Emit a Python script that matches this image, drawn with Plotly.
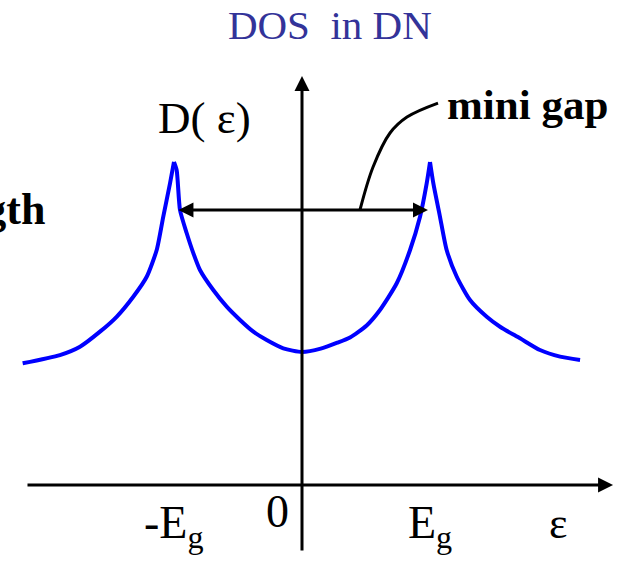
import plotly.graph_objects as go

# Density of states D(eps) near the mini gap, energy in units of E_g
eps = [-2.182, -1.891, -1.734, -1.578, -1.448, -1.318, -1.213, -1.135, -1.084, -1.031,
       -1.0,
       -0.979, -0.953, -0.901, -0.849, -0.797, -0.693, -0.588, -0.484, -0.380, -0.276,
       -0.146, 0.0, 0.146, 0.276, 0.375, 0.505, 0.609, 0.740, 0.844, 0.922, 0.974,
       1.0,
       1.026, 1.078, 1.130, 1.209, 1.3125, 1.443, 1.547, 1.703, 1.859, 2.016, 2.172]
dos = [0.915, 0.977, 1.040, 1.153, 1.265, 1.416, 1.566, 1.767, 2.017, 2.268,
       2.429,
       2.368, 2.068, 1.895, 1.744, 1.617, 1.466, 1.341, 1.241, 1.153, 1.090,
       1.028, 1.0, 1.025, 1.070, 1.110, 1.200, 1.316, 1.517, 1.767, 2.017, 2.268,
       2.429,
       2.268, 2.017, 1.767, 1.566, 1.391, 1.265, 1.190, 1.103, 1.015, 0.965, 0.940]

# Energy labels on the horizontal axis
tick_pos = [-1.0, 1.0]
tick_text = ["-E<sub>g</sub>", "E<sub>g</sub>"]

gap_level = 2.068          # height of the double arrow spanning the gap
gap_ends = [-0.977, 0.984]

# Leader line from the gap arrow to the "mini gap" label
leader_x = [0.453, 0.555, 0.6875, 0.820, 1.0625]
leader_y = [2.068, 2.391, 2.647, 2.767, 2.872]

FONT = "Liberation Serif, Times New Roman, serif"
BLUE = "#0000FF"

fig = go.Figure()

# Draw the curve in pieces so the peaks stay sharp cusps
peaks = [i for i in range(1, len(dos) - 1) if dos[i] > dos[i - 1] and dos[i] > dos[i + 1]]
cuts = [0] + peaks + [len(dos) - 1]
for a, b in zip(cuts[:-1], cuts[1:]):
    fig.add_trace(go.Scatter(
        x=eps[a:b + 1], y=dos[a:b + 1], mode="lines",
        line=dict(color=BLUE, width=4, shape="spline", smoothing=0.6),
        hoverinfo="skip", showlegend=False))

fig.add_trace(go.Scatter(
    x=leader_x, y=leader_y, mode="lines",
    line=dict(color="black", width=3, shape="spline", smoothing=1.0),
    hoverinfo="skip", showlegend=False))

annotations = []

def arrow(x, y, ax, ay, both=False):
    d = dict(x=x, y=y, ax=ax, ay=ay, xref="x", yref="y", axref="x", ayref="y",
             text="", showarrow=True, arrowhead=2, arrowsize=1, arrowwidth=3,
             arrowcolor="black", standoff=0, startstandoff=0)
    if both:
        d.update(arrowside="end+start", startarrowhead=2, startarrowsize=1)
    annotations.append(d)

# Axes drawn as arrows
arrow(2.43, 0.0, -2.156, 0.0)
arrow(0.0, 3.075, 0.0, -0.504)
# Gap width arrow
arrow(gap_ends[1], gap_level, gap_ends[0], gap_level, both=True)

def label(x, y, text, size, xanchor="center", yanchor="middle", bold=False, color="black"):
    annotations.append(dict(
        x=x, y=y, xref="x", yref="y", text=f"<b>{text}</b>" if bold else text,
        showarrow=False, xanchor=xanchor, yanchor=yanchor,
        font=dict(family=FONT, size=size, color=color)))

for p, t in zip(tick_pos, tick_text):
    label(p, -0.31, t, 46)
label(-0.085, -0.20, "0", 46, xanchor="right")
label(2.0, -0.29, "ε", 44)
label(-1.14, 2.76, "D( ε)", 45, xanchor="left")
label(1.12, 2.865, "mini gap", 43, xanchor="left", bold=True)
label(-1.99, 2.07, "length", 44, xanchor="right", bold=True)

fig.update_layout(
    width=620, height=562,
    margin=dict(l=0, r=0, t=0, b=0),
    paper_bgcolor="white", plot_bgcolor="white",
    title=dict(text="DOS  in DN", x=0.532, xanchor="center", y=0.957, yanchor="middle",
               font=dict(family=FONT, size=41, color="#333399")),
    xaxis=dict(range=[-2.359, 2.484], visible=False, fixedrange=True),
    yaxis=dict(range=[-0.579, 3.647], visible=False, fixedrange=True),
    annotations=annotations,
    showlegend=False,
)

fig.write_html("out.html")
